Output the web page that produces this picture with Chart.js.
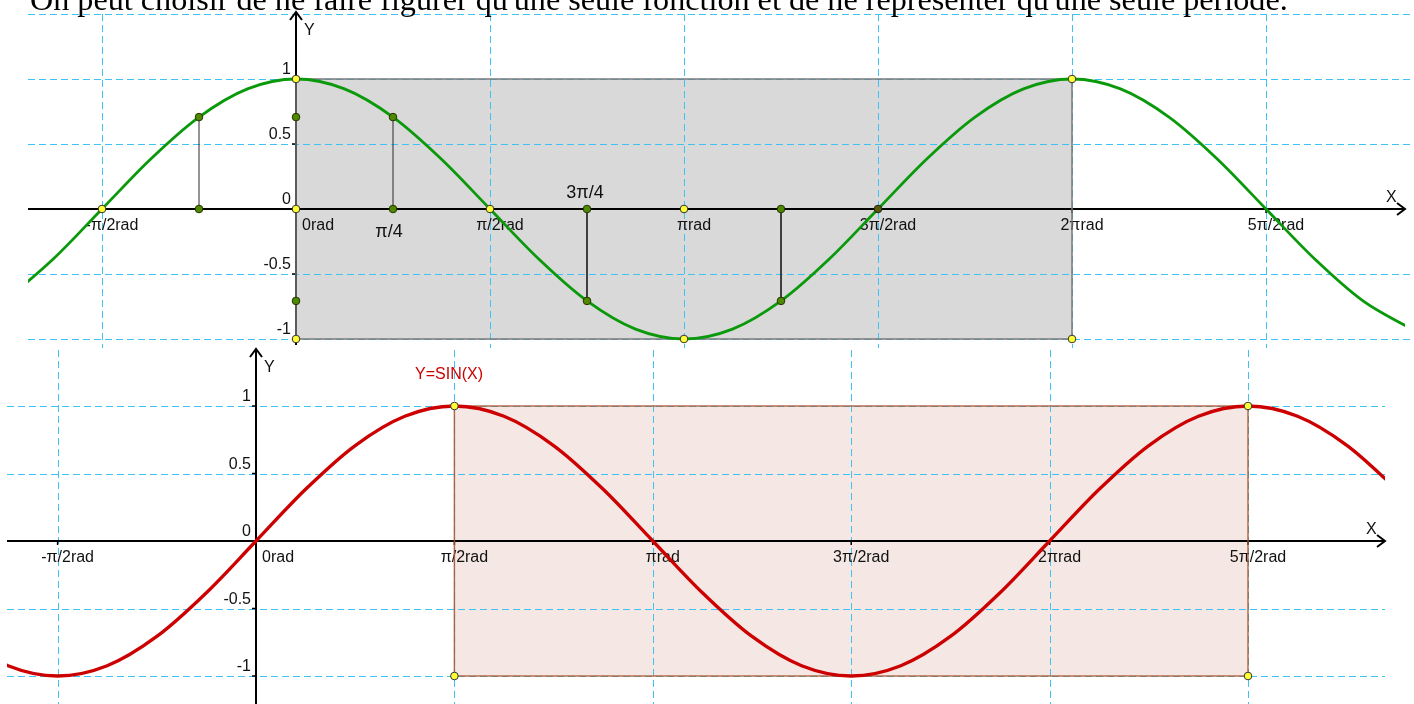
<!DOCTYPE html>
<html>
<head>
<meta charset="utf-8">
<title>Fonctions cosinus et sinus</title>
<script src="https://cdn.jsdelivr.net/npm/chart.js@4/dist/chart.umd.min.js"></script>
<style>
  html, body { margin: 0; padding: 0; background: #fff; width: 1414px; height: 704px; overflow: hidden; }
  .box { position: absolute; left: 0; width: 1414px; }
  #topBox { top: 0; height: 348px; }
  #botBox { top: 344px; height: 360px; }
  canvas { display: block; }
</style>
</head>
<body>
<div class="box" id="topBox"><canvas id="cosChart" width="1414" height="348"></canvas></div>
<div class="box" id="botBox"><canvas id="sinChart" width="1414" height="360"></canvas></div>
<script>
// Angles are expressed in eighths of π (1 unit = π/8 rad).
const angleSteps = [-6, -5, -4, -3, -2, -1, 0, 1, 2, 3, 4, 5, 6, 7, 8, 9, 10, 11, 12, 13, 14, 15, 16, 17, 18, 19, 20, 21, 22, 23];
const cosValues  = [-0.707, -0.383, 0, 0.383, 0.707, 0.924, 1, 0.924, 0.707, 0.383, 0, -0.383, -0.707, -0.924, -1, -0.924, -0.707, -0.383, 0, 0.383, 0.707, 0.924, 1, 0.924, 0.707, 0.383, 0, -0.383, -0.707, -0.924];
const sinValues  = [-0.707, -0.924, -1, -0.924, -0.707, -0.383, 0, 0.383, 0.707, 0.924, 1, 0.924, 0.707, 0.383, 0, -0.383, -0.707, -0.924, -1, -0.924, -0.707, -0.383, 0, 0.383, 0.707, 0.924, 1, 0.924, 0.707, 0.383];

// Axis ticks
const xTickPos    = [-4, 0, 4, 8, 12, 16, 20];
const xTickLabels = ['-π/2rad', '0rad', 'π/2rad', 'πrad', '3π/2rad', '2πrad', '5π/2rad'];
const yTickPos    = [1, 0.5, 0, -0.5, -1];
const yTickLabels = ['1', '0.5', '0', '-0.5', '-1'];
const xGridPos    = [-4, 4, 8, 12, 16, 20];

// One period highlighted on each curve
const cosPeriod = [0, 16];
const sinPeriod = [4, 20];
const periodY   = [-1, 1];

// Remarkable points of the cosine curve
const cosKeyX = [-4, 0, 0, 4, 8, 8, 16, 0, 16];
const cosKeyY = [0, 1, 0, 0, 0, -1, 1, -1, -1];
const cosProjX = [-2, -2, 0, 2, 2, 6, 6, 10, 10, 0];
const cosProjY = [0.707, 0, 0.707, 0.707, 0, 0, -0.707, 0, -0.707, -0.707];
const cosZeroX = [12];
const cosZeroY = [0];
// Vertical projections at odd multiples of π/4
const quarterX = [-2, 2, 6, 10];
const quarterY = [0.707, 0.707, -0.707, -0.707];
const quarterLabelPos = [2, 6];
const quarterLabels = ['π/4', '3π/4'];

// Corners of the sine period rectangle
const sinKeyX = [4, 20, 4, 20];
const sinKeyY = [1, 1, -1, -1];

const titleText = "On peut choisir de ne faire figurer qu'une seule fonction et de ne représenter qu'une seule période.";
const sinCaption = 'Y=SIN(X)';

const SANS = '"Liberation Sans", Arial, sans-serif';
const GRID = '#3fc2f4';

function pts(xs, ys) { return xs.map((x, i) => ({ x: x, y: ys[i] })); }

function chevron(ctx, x, y, dir) {
  ctx.beginPath();
  if (dir === 'right') { ctx.moveTo(x - 8, y - 6); ctx.lineTo(x, y); ctx.lineTo(x - 8, y + 6); }
  else { ctx.moveTo(x - 6, y + 8); ctx.lineTo(x, y); ctx.lineTo(x + 6, y + 8); }
  ctx.stroke();
}

// Draws the dashed grid, the axes with arrows and all axis texts,
// just above the shaded period and below the curve.
function framePlugin(c) {
  return {
    id: 'frame',
    afterDatasetDraw(chart, args) {
      if (args.index !== 0) return;
      const ctx = chart.ctx, xs = chart.scales.x, ys = chart.scales.y;
      const ax = xs.getPixelForValue(0), ay = ys.getPixelForValue(0);
      ctx.save();
      // dashed grid
      ctx.strokeStyle = GRID; ctx.lineWidth = 1; ctx.setLineDash([7, 4]);
      c.hGrid.forEach(v => {
        const y = Math.round(ys.getPixelForValue(v)) + 0.5;
        ctx.beginPath(); ctx.moveTo(c.hLeft, y); ctx.lineTo(c.hRight, y); ctx.stroke();
      });
      xGridPos.forEach(v => {
        const x = Math.round(xs.getPixelForValue(v)) + 0.5;
        ctx.beginPath(); ctx.moveTo(x, c.vTop); ctx.lineTo(x, c.vBottom); ctx.stroke();
      });
      ctx.strokeStyle = '#000'; ctx.lineWidth = 2; ctx.setLineDash([]);
      // x axis
      ctx.beginPath(); ctx.moveTo(c.axLeft, ay); ctx.lineTo(c.axRight, ay); ctx.stroke();
      chevron(ctx, c.axRight, ay, 'right');
      // y axis
      ctx.beginPath(); ctx.moveTo(ax, c.ayTop); ctx.lineTo(ax, c.ayBottom); ctx.stroke();
      chevron(ctx, ax, c.ayTop, 'up');
      // small tick marks
      ctx.lineWidth = 1.5;
      xTickPos.forEach(v => {
        if (v === 0) return;
        const x = xs.getPixelForValue(v);
        ctx.beginPath(); ctx.moveTo(x, ay); ctx.lineTo(x, ay + 4); ctx.stroke();
      });
      yTickPos.forEach(v => {
        if (v === 0) return;
        const y = ys.getPixelForValue(v);
        ctx.beginPath(); ctx.moveTo(ax - 4, y); ctx.lineTo(ax, y); ctx.stroke();
      });
      // tick labels
      ctx.fillStyle = '#111';
      ctx.font = '16px ' + SANS;
      ctx.textBaseline = 'middle';
      xTickPos.forEach((v, i) => {
        const x = xs.getPixelForValue(v);
        if (v === 0) { ctx.textAlign = 'left'; ctx.fillText(xTickLabels[i], x + 6, ay + 17); }
        else { ctx.textAlign = 'center'; ctx.fillText(xTickLabels[i], x + 10, ay + 17); }
      });
      ctx.textAlign = 'right';
      yTickPos.forEach((v, i) => {
        ctx.fillText(yTickLabels[i], ax - 5, ys.getPixelForValue(v) - 9);
      });
      // axis names
      ctx.textAlign = 'left';
      ctx.fillText('X', c.axRight - 19, ay - 11);
      ctx.fillText('Y', ax + 8, c.ayTop + 19);
      if (c.extra) c.extra(chart, ctx, xs, ys, ax, ay);
      ctx.restore();
    }
  };
}

const baseOptions = (xmin, xmax, ymin, ymax) => ({
  responsive: false,
  animation: false,
  events: [],
  layout: { padding: 0, autoPadding: false },
  plugins: { legend: { display: false }, tooltip: { enabled: false } },
  scales: {
    x: { type: 'linear', min: xmin, max: xmax, display: false },
    y: { type: 'linear', min: ymin, max: ymax, display: false }
  }
});

function pointSet(xs, ys, fillColor, edge, order) {
  return { data: pts(xs, ys), showLine: false, pointRadius: 3.8, pointBorderWidth: 1,
           pointBackgroundColor: fillColor, pointBorderColor: edge, order: order };
}

// ---------- cosine chart ----------
const cosDatasets = [
  { data: pts(cosPeriod, [periodY[1], periodY[1]]), fill: { value: periodY[0] },
    backgroundColor: '#d9d9d9', borderWidth: 0, pointRadius: 0, order: 9 },
  { data: pts([cosPeriod[0], cosPeriod[0], cosPeriod[1], cosPeriod[1], cosPeriod[0]],
              [periodY[0], periodY[1], periodY[1], periodY[0], periodY[0]]),
    fill: false, borderColor: '#7a7a7a', borderWidth: 1.5, pointRadius: 0, order: 8 },
  { data: pts(angleSteps, cosValues), fill: false, borderColor: '#0a990a', borderWidth: 2.8,
    cubicInterpolationMode: 'monotone', pointRadius: 0, order: 7,
    clip: { left: -28, right: -9, top: false, bottom: false } }
];
quarterX.forEach((qx, i) => cosDatasets.push({
  data: pts([qx, qx], [0, quarterY[i]]), fill: false, borderColor: '#2b2b2b', borderWidth: 1,
  pointRadius: 0, order: 6 }));
cosDatasets.push(pointSet(cosProjX, cosProjY, '#4d8a00', '#263300', 3));
cosDatasets.push(pointSet(cosZeroX, cosZeroY, '#5a5a00', '#222', 2));
cosDatasets.push(pointSet(cosKeyX, cosKeyY, '#ffff33', '#333', 1));

new Chart(document.getElementById('cosChart'), {
  type: 'line',
  data: { datasets: cosDatasets },
  options: baseOptions(-296 / 48.5, (1414 - 296) / 48.5, (209 - 348) / 130, 209 / 130),
  plugins: [framePlugin({
    hGrid: [1.5, 1, 0.5, -0.5, -1], hLeft: 28, hRight: 1414, vTop: 14, vBottom: 348,
    axLeft: 28, axRight: 1405, ayTop: 12, ayBottom: 345,
    extra(chart, ctx, xs, ys, ax, ay) {
      ctx.font = '18px ' + SANS;
      ctx.textAlign = 'center';
      ctx.fillText(quarterLabels[0], xs.getPixelForValue(quarterLabelPos[0]) - 4, ay + 23);
      ctx.fillText(quarterLabels[1], xs.getPixelForValue(quarterLabelPos[1]) - 2, ay - 16);
      // sentence above the figures
      ctx.fillStyle = '#000';
      ctx.textAlign = 'left';
      ctx.textBaseline = 'alphabetic';
      ctx.font = '28px "Liberation Serif", "Times New Roman", serif';
      const w = ctx.measureText(titleText).width;
      ctx.font = (28 * 1258 / w).toFixed(2) + 'px "Liberation Serif", "Times New Roman", serif';
      ctx.fillText(titleText, 30, 10);
    }
  })]
});

// ---------- sine chart ----------
const sinDatasets = [
  { data: pts(sinPeriod, [periodY[1], periodY[1]]), fill: { value: periodY[0] },
    backgroundColor: '#f5e8e4', borderWidth: 0, pointRadius: 0, order: 9 },
  { data: pts([sinPeriod[0], sinPeriod[0], sinPeriod[1], sinPeriod[1], sinPeriod[0]],
              [periodY[0], periodY[1], periodY[1], periodY[0], periodY[0]]),
    fill: false, borderColor: 'rgba(170,85,45,0.85)', borderWidth: 1.5, pointRadius: 0, order: 8 },
  { data: pts(angleSteps, sinValues), fill: false, borderColor: '#cc0000', borderWidth: 3.3,
    cubicInterpolationMode: 'monotone', pointRadius: 0, order: 7,
    clip: { left: -7, right: -29, top: false, bottom: false } },
  pointSet(sinKeyX, sinKeyY, '#ffff33', '#333', 1)
];

new Chart(document.getElementById('sinChart'), {
  type: 'line',
  data: { datasets: sinDatasets },
  options: baseOptions(-256 / 49.6, (1414 - 256) / 49.6, (197 - 360) / 135, 197 / 135),
  plugins: [framePlugin({
    hGrid: [1, 0.5, -0.5, -1], hLeft: 7, hRight: 1385, vTop: 6, vBottom: 360,
    axLeft: 7, axRight: 1385, ayTop: 5, ayBottom: 360,
    extra(chart, ctx) {
      ctx.fillStyle = '#cc0000';
      ctx.font = '16px ' + SANS;
      ctx.textAlign = 'left';
      ctx.fillText(sinCaption, 415, 31);
    }
  })]
});
</script>
</body>
</html>
